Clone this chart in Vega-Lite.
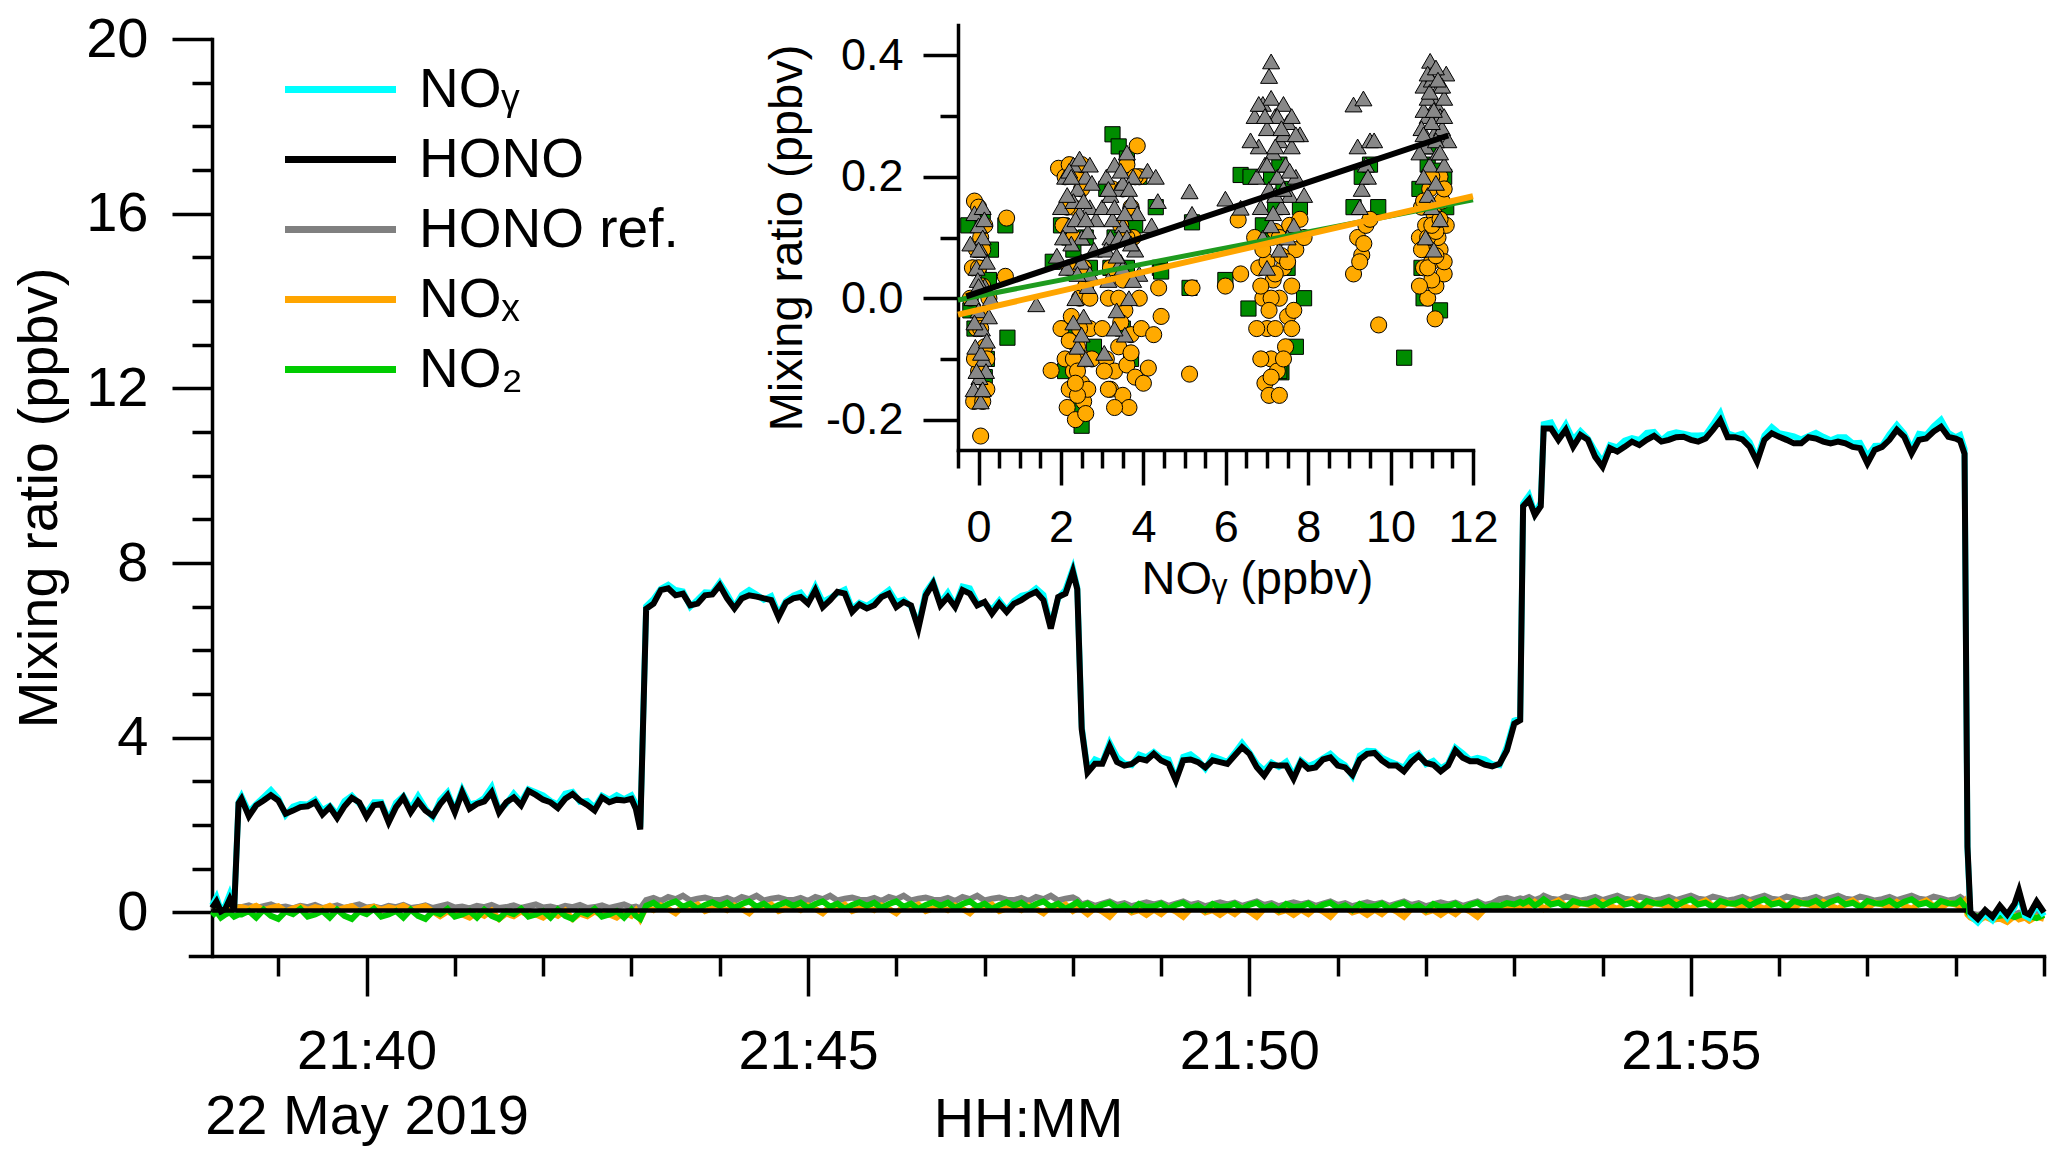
{
  "$schema": "https://vega.github.io/schema/vega-lite/v6.json",
  "width": 1854,
  "height": 917,
  "autosize": "none",
  "padding": {"left": 190, "top": 39, "right": 23, "bottom": 210},
  "config": {
    "font": "Liberation Sans",
    "view": {"stroke": null},
    "axis": {
      "domainColor": "#000", "domainWidth": 3.5, "tickColor": "#000", "tickWidth": 3.5,
      "labelColor": "#000", "titleColor": "#000", "labelFont": "Liberation Sans", "titleFont": "Liberation Sans",
      "titleFontWeight": "normal", "grid": false, "labelOverlap": false, "labelFlush": false, "domainCap": "square", "labelLimit": 0
    },
    "legend": {"labelFont": "Liberation Sans", "labelColor": "#000"}
  },
  "layer": [
    {
      "encoding": {
        "x": {
          "field": "t", "type": "temporal",
          "scale": {"domain": [
            {"year": 1900, "month": 1, "date": 1, "hours": 21, "minutes": 38},
            {"year": 1900, "month": 1, "date": 1, "hours": 21, "minutes": 59}
          ]},
          "axis": {
            "title": "HH:MM", "titleFontSize": 56, "titleX": 838, "titleY": 180, "titleAlign": "center", "titleBaseline": "alphabetic",
            "labelFontSize": 56, "labelPadding": 28, "labelLineHeight": 65,
            "values": [
              {"year": 1900, "month": 1, "date": 1, "hours": 21, "minutes": 39},
              {"year": 1900, "month": 1, "date": 1, "hours": 21, "minutes": 40},
              {"year": 1900, "month": 1, "date": 1, "hours": 21, "minutes": 41},
              {"year": 1900, "month": 1, "date": 1, "hours": 21, "minutes": 42},
              {"year": 1900, "month": 1, "date": 1, "hours": 21, "minutes": 43},
              {"year": 1900, "month": 1, "date": 1, "hours": 21, "minutes": 44},
              {"year": 1900, "month": 1, "date": 1, "hours": 21, "minutes": 45},
              {"year": 1900, "month": 1, "date": 1, "hours": 21, "minutes": 46},
              {"year": 1900, "month": 1, "date": 1, "hours": 21, "minutes": 47},
              {"year": 1900, "month": 1, "date": 1, "hours": 21, "minutes": 48},
              {"year": 1900, "month": 1, "date": 1, "hours": 21, "minutes": 49},
              {"year": 1900, "month": 1, "date": 1, "hours": 21, "minutes": 50},
              {"year": 1900, "month": 1, "date": 1, "hours": 21, "minutes": 51},
              {"year": 1900, "month": 1, "date": 1, "hours": 21, "minutes": 52},
              {"year": 1900, "month": 1, "date": 1, "hours": 21, "minutes": 53},
              {"year": 1900, "month": 1, "date": 1, "hours": 21, "minutes": 54},
              {"year": 1900, "month": 1, "date": 1, "hours": 21, "minutes": 55},
              {"year": 1900, "month": 1, "date": 1, "hours": 21, "minutes": 56},
              {"year": 1900, "month": 1, "date": 1, "hours": 21, "minutes": 57},
              {"year": 1900, "month": 1, "date": 1, "hours": 21, "minutes": 58},
              {"year": 1900, "month": 1, "date": 1, "hours": 21, "minutes": 59}
            ],
            "tickSize": {"condition": {"test": "minutes(datum.value) % 5 == 0", "value": 40}, "value": 20},
            "labelExpr": "minutes(datum.value) == 40 ? ['21:40', '22 May 2019'] : (minutes(datum.value) % 5 == 0 ? timeFormat(datum.value, '%H:%M') : '')"
          }
        },
        "y": {
          "field": "v", "type": "quantitative",
          "scale": {"domain": [-1, 20], "nice": false, "zero": false},
          "axis": {
            "title": "Mixing ratio (ppbv)", "titleFontSize": 56, "titlePadding": 17,
            "labelFontSize": 56, "labelPadding": 24, "offset": -22,
            "values": [0, 1, 2, 3, 4, 5, 6, 7, 8, 9, 10, 11, 12, 13, 14, 15, 16, 17, 18, 19, 20],
            "tickSize": {"condition": {"test": "datum.value % 4 == 0", "value": 40}, "value": 20},
            "labelExpr": "datum.value % 4 == 0 ? datum.label : ''"
          }
        }
      },
      "layer": [
        {
          "data": {
            "format": {"parse": {"t": "date:'%H:%M:%S'"}},
            "values": [
              {"t": "21:38:15", "h": 0.10, "a": 0.16, "r": 0.05, "n": 0.10, "g": -0.08},
              {"t": "21:38:18", "h": 0.25, "a": 0.35, "r": 0.10, "n": 0.15, "g": 0.02},
              {"t": "21:38:21", "h": 0.02, "a": 0.05, "r": 0.08, "n": 0.05, "g": -0.12},
              {"t": "21:38:24", "h": 0.08, "a": 0.16, "r": 0.12, "n": 0.12, "g": -0.05},
              {"t": "21:38:27", "h": 0.30, "a": 0.42, "r": 0.06, "n": 0.08, "g": 0.00},
              {"t": "21:38:30", "h": 0.05, "a": 0.10, "r": 0.10, "n": 0.14, "g": -0.10},
              {"t": "21:38:33", "h": 2.50, "a": 2.52, "r": 0.12, "n": 0.10, "g": -0.05},
              {"t": "21:38:35", "h": 2.60, "a": 2.66, "r": 0.12, "n": 0.12, "g": -0.05},
              {"t": "21:38:40", "h": 2.20, "a": 2.30, "r": 0.16, "n": 0.08, "g": 0.03},
              {"t": "21:38:45", "h": 2.45, "a": 2.48, "r": 0.10, "n": 0.15, "g": -0.12},
              {"t": "21:38:50", "h": 2.56, "a": 2.64, "r": 0.14, "n": 0.05, "g": 0.06},
              {"t": "21:38:55", "h": 2.68, "a": 2.80, "r": 0.18, "n": 0.10, "g": -0.08},
              {"t": "21:39:00", "h": 2.56, "a": 2.61, "r": 0.11, "n": 0.14, "g": -0.15},
              {"t": "21:39:05", "h": 2.26, "a": 2.23, "r": 0.13, "n": 0.02, "g": 0.02},
              {"t": "21:39:10", "h": 2.33, "a": 2.42, "r": 0.09, "n": 0.09, "g": -0.04},
              {"t": "21:39:15", "h": 2.41, "a": 2.48, "r": 0.15, "n": 0.13, "g": 0.08},
              {"t": "21:39:20", "h": 2.43, "a": 2.47, "r": 0.12, "n": 0.06, "g": -0.10},
              {"t": "21:39:25", "h": 2.52, "a": 2.58, "r": 0.17, "n": 0.12, "g": -0.05},
              {"t": "21:39:30", "h": 2.24, "a": 2.34, "r": 0.10, "n": 0.08, "g": 0.03},
              {"t": "21:39:35", "h": 2.41, "a": 2.44, "r": 0.12, "n": 0.15, "g": -0.12},
              {"t": "21:39:40", "h": 2.16, "a": 2.24, "r": 0.16, "n": 0.05, "g": 0.06},
              {"t": "21:39:45", "h": 2.43, "a": 2.55, "r": 0.10, "n": 0.10, "g": -0.08},
              {"t": "21:39:50", "h": 2.62, "a": 2.67, "r": 0.14, "n": 0.14, "g": -0.15},
              {"t": "21:39:55", "h": 2.52, "a": 2.49, "r": 0.18, "n": 0.02, "g": 0.02},
              {"t": "21:40:00", "h": 2.19, "a": 2.28, "r": 0.11, "n": 0.09, "g": -0.04},
              {"t": "21:40:05", "h": 2.45, "a": 2.52, "r": 0.13, "n": 0.13, "g": 0.08},
              {"t": "21:40:10", "h": 2.48, "a": 2.52, "r": 0.09, "n": 0.06, "g": -0.10},
              {"t": "21:40:15", "h": 2.06, "a": 2.12, "r": 0.15, "n": 0.12, "g": -0.05},
              {"t": "21:40:20", "h": 2.41, "a": 2.51, "r": 0.12, "n": 0.08, "g": 0.03},
              {"t": "21:40:25", "h": 2.63, "a": 2.66, "r": 0.17, "n": 0.15, "g": -0.12},
              {"t": "21:40:30", "h": 2.29, "a": 2.37, "r": 0.10, "n": 0.05, "g": 0.06},
              {"t": "21:40:35", "h": 2.54, "a": 2.66, "r": 0.12, "n": 0.10, "g": -0.08},
              {"t": "21:40:40", "h": 2.33, "a": 2.38, "r": 0.16, "n": 0.14, "g": -0.15},
              {"t": "21:40:45", "h": 2.21, "a": 2.18, "r": 0.10, "n": 0.02, "g": 0.02},
              {"t": "21:40:50", "h": 2.48, "a": 2.57, "r": 0.14, "n": -0.09, "g": -0.04},
              {"t": "21:40:55", "h": 2.68, "a": 2.75, "r": 0.18, "n": 0.02, "g": 0.08},
              {"t": "21:41:00", "h": 2.29, "a": 2.33, "r": 0.11, "n": -0.06, "g": -0.10},
              {"t": "21:41:05", "h": 2.75, "a": 2.81, "r": 0.13, "n": -0.05, "g": -0.05},
              {"t": "21:41:10", "h": 2.37, "a": 2.47, "r": 0.09, "n": -0.12, "g": 0.03},
              {"t": "21:41:15", "h": 2.48, "a": 2.51, "r": 0.15, "n": 0.00, "g": -0.12},
              {"t": "21:41:20", "h": 2.54, "a": 2.62, "r": 0.12, "n": -0.08, "g": 0.06},
              {"t": "21:41:25", "h": 2.75, "a": 2.87, "r": 0.17, "n": 0.04, "g": -0.08},
              {"t": "21:41:30", "h": 2.29, "a": 2.34, "r": 0.10, "n": -0.15, "g": -0.15},
              {"t": "21:41:35", "h": 2.52, "a": 2.49, "r": 0.12, "n": -0.03, "g": 0.02},
              {"t": "21:41:40", "h": 2.63, "a": 2.72, "r": 0.16, "n": -0.09, "g": -0.04},
              {"t": "21:41:45", "h": 2.45, "a": 2.52, "r": 0.10, "n": 0.02, "g": 0.08},
              {"t": "21:41:50", "h": 2.78, "a": 2.82, "r": 0.14, "n": -0.06, "g": -0.10},
              {"t": "21:41:55", "h": 2.69, "a": 2.75, "r": 0.18, "n": -0.05, "g": -0.05},
              {"t": "21:42:00", "h": 2.58, "a": 2.68, "r": 0.11, "n": -0.12, "g": 0.03},
              {"t": "21:42:05", "h": 2.52, "a": 2.55, "r": 0.13, "n": 0.00, "g": -0.12},
              {"t": "21:42:10", "h": 2.39, "a": 2.47, "r": 0.09, "n": -0.08, "g": 0.06},
              {"t": "21:42:15", "h": 2.60, "a": 2.72, "r": 0.15, "n": 0.04, "g": -0.08},
              {"t": "21:42:20", "h": 2.71, "a": 2.76, "r": 0.12, "n": -0.15, "g": -0.15},
              {"t": "21:42:25", "h": 2.56, "a": 2.53, "r": 0.17, "n": -0.03, "g": 0.02},
              {"t": "21:42:30", "h": 2.46, "a": 2.55, "r": 0.10, "n": -0.09, "g": -0.04},
              {"t": "21:42:35", "h": 2.33, "a": 2.40, "r": 0.12, "n": 0.02, "g": 0.08},
              {"t": "21:42:40", "h": 2.63, "a": 2.67, "r": 0.16, "n": -0.06, "g": -0.10},
              {"t": "21:42:45", "h": 2.52, "a": 2.58, "r": 0.10, "n": -0.05, "g": -0.05},
              {"t": "21:42:50", "h": 2.58, "a": 2.68, "r": 0.14, "n": -0.12, "g": 0.03},
              {"t": "21:42:55", "h": 2.56, "a": 2.59, "r": 0.18, "n": 0.00, "g": -0.12},
              {"t": "21:43:00", "h": 2.60, "a": 2.68, "r": 0.11, "n": -0.08, "g": 0.06},
              {"t": "21:43:03", "h": 2.37, "a": 2.49, "r": 0.13, "n": 0.04, "g": -0.08},
              {"t": "21:43:06", "h": 1.90, "a": 1.95, "r": 0.09, "n": -0.15, "g": -0.15},
              {"t": "21:43:10", "h": 6.95, "a": 7.01, "r": 0.28, "n": 0.12, "g": 0.15},
              {"t": "21:43:15", "h": 7.07, "a": 7.17, "r": 0.33, "n": 0.05, "g": 0.22},
              {"t": "21:43:20", "h": 7.38, "a": 7.41, "r": 0.26, "n": 0.16, "g": 0.10},
              {"t": "21:43:25", "h": 7.42, "a": 7.50, "r": 0.35, "n": 0.08, "g": 0.19},
              {"t": "21:43:30", "h": 7.26, "a": 7.38, "r": 0.30, "n": -0.02, "g": 0.25},
              {"t": "21:43:35", "h": 7.30, "a": 7.35, "r": 0.38, "n": 0.14, "g": 0.13},
              {"t": "21:43:40", "h": 7.03, "a": 7.00, "r": 0.27, "n": 0.10, "g": 0.20},
              {"t": "21:43:45", "h": 7.07, "a": 7.16, "r": 0.31, "n": 0.18, "g": 0.08},
              {"t": "21:43:50", "h": 7.26, "a": 7.33, "r": 0.34, "n": 0.03, "g": 0.17},
              {"t": "21:43:55", "h": 7.28, "a": 7.32, "r": 0.29, "n": 0.09, "g": 0.23},
              {"t": "21:44:00", "h": 7.49, "a": 7.55, "r": 0.28, "n": 0.12, "g": 0.15},
              {"t": "21:44:05", "h": 7.19, "a": 7.29, "r": 0.33, "n": 0.05, "g": 0.22},
              {"t": "21:44:10", "h": 6.96, "a": 6.99, "r": 0.26, "n": 0.16, "g": 0.10},
              {"t": "21:44:15", "h": 7.19, "a": 7.27, "r": 0.35, "n": 0.08, "g": 0.19},
              {"t": "21:44:20", "h": 7.26, "a": 7.38, "r": 0.30, "n": -0.02, "g": 0.25},
              {"t": "21:44:25", "h": 7.23, "a": 7.28, "r": 0.38, "n": 0.14, "g": 0.13},
              {"t": "21:44:30", "h": 7.19, "a": 7.16, "r": 0.27, "n": 0.10, "g": 0.20},
              {"t": "21:44:35", "h": 7.15, "a": 7.24, "r": 0.31, "n": 0.18, "g": 0.08},
              {"t": "21:44:40", "h": 6.76, "a": 6.83, "r": 0.34, "n": 0.03, "g": 0.17},
              {"t": "21:44:45", "h": 7.09, "a": 7.13, "r": 0.29, "n": 0.09, "g": 0.23},
              {"t": "21:44:50", "h": 7.19, "a": 7.25, "r": 0.28, "n": 0.12, "g": 0.15},
              {"t": "21:44:55", "h": 7.22, "a": 7.32, "r": 0.33, "n": 0.05, "g": 0.22},
              {"t": "21:45:00", "h": 7.07, "a": 7.10, "r": 0.26, "n": 0.16, "g": 0.10},
              {"t": "21:45:05", "h": 7.38, "a": 7.46, "r": 0.35, "n": 0.08, "g": 0.19},
              {"t": "21:45:10", "h": 6.99, "a": 7.11, "r": 0.30, "n": -0.02, "g": 0.25},
              {"t": "21:45:15", "h": 7.15, "a": 7.20, "r": 0.38, "n": 0.14, "g": 0.13},
              {"t": "21:45:20", "h": 7.34, "a": 7.31, "r": 0.27, "n": 0.10, "g": 0.20},
              {"t": "21:45:25", "h": 7.30, "a": 7.39, "r": 0.31, "n": 0.18, "g": 0.08},
              {"t": "21:45:30", "h": 6.88, "a": 6.95, "r": 0.34, "n": 0.03, "g": 0.17},
              {"t": "21:45:35", "h": 7.05, "a": 7.09, "r": 0.29, "n": 0.09, "g": 0.23},
              {"t": "21:45:40", "h": 6.96, "a": 7.02, "r": 0.28, "n": 0.12, "g": 0.15},
              {"t": "21:45:45", "h": 7.03, "a": 7.13, "r": 0.33, "n": 0.05, "g": 0.22},
              {"t": "21:45:50", "h": 7.22, "a": 7.25, "r": 0.26, "n": 0.16, "g": 0.10},
              {"t": "21:45:55", "h": 7.30, "a": 7.38, "r": 0.35, "n": 0.08, "g": 0.19},
              {"t": "21:46:00", "h": 6.99, "a": 7.11, "r": 0.30, "n": -0.02, "g": 0.25},
              {"t": "21:46:05", "h": 7.11, "a": 7.16, "r": 0.38, "n": 0.14, "g": 0.13},
              {"t": "21:46:10", "h": 7.03, "a": 7.00, "r": 0.27, "n": 0.10, "g": 0.20},
              {"t": "21:46:15", "h": 6.50, "a": 6.59, "r": 0.31, "n": 0.18, "g": 0.08},
              {"t": "21:46:20", "h": 7.26, "a": 7.33, "r": 0.34, "n": 0.03, "g": 0.17},
              {"t": "21:46:25", "h": 7.53, "a": 7.57, "r": 0.29, "n": 0.09, "g": 0.23},
              {"t": "21:46:30", "h": 7.03, "a": 7.09, "r": 0.28, "n": 0.12, "g": 0.15},
              {"t": "21:46:35", "h": 7.22, "a": 7.32, "r": 0.33, "n": 0.05, "g": 0.22},
              {"t": "21:46:40", "h": 6.99, "a": 7.02, "r": 0.26, "n": 0.16, "g": 0.10},
              {"t": "21:46:45", "h": 7.38, "a": 7.46, "r": 0.35, "n": 0.08, "g": 0.19},
              {"t": "21:46:50", "h": 7.30, "a": 7.42, "r": 0.30, "n": -0.02, "g": 0.25},
              {"t": "21:46:55", "h": 7.03, "a": 7.08, "r": 0.38, "n": 0.14, "g": 0.13},
              {"t": "21:47:00", "h": 7.11, "a": 7.08, "r": 0.27, "n": 0.10, "g": 0.20},
              {"t": "21:47:05", "h": 6.84, "a": 6.93, "r": 0.31, "n": 0.18, "g": 0.08},
              {"t": "21:47:10", "h": 7.07, "a": 7.14, "r": 0.34, "n": 0.03, "g": 0.17},
              {"t": "21:47:15", "h": 6.88, "a": 6.92, "r": 0.29, "n": 0.09, "g": 0.23},
              {"t": "21:47:20", "h": 7.07, "a": 7.13, "r": 0.28, "n": 0.12, "g": 0.15},
              {"t": "21:47:25", "h": 7.15, "a": 7.25, "r": 0.33, "n": 0.05, "g": 0.22},
              {"t": "21:47:30", "h": 7.26, "a": 7.29, "r": 0.26, "n": 0.16, "g": 0.10},
              {"t": "21:47:35", "h": 7.34, "a": 7.42, "r": 0.35, "n": 0.08, "g": 0.19},
              {"t": "21:47:40", "h": 7.15, "a": 7.27, "r": 0.30, "n": -0.02, "g": 0.25},
              {"t": "21:47:45", "h": 6.50, "a": 6.55, "r": 0.38, "n": 0.14, "g": 0.13},
              {"t": "21:47:50", "h": 7.22, "a": 7.19, "r": 0.27, "n": 0.10, "g": 0.20},
              {"t": "21:47:55", "h": 7.30, "a": 7.39, "r": 0.31, "n": 0.18, "g": 0.08},
              {"t": "21:48:00", "h": 7.80, "a": 7.87, "r": 0.34, "n": 0.03, "g": 0.17},
              {"t": "21:48:03", "h": 7.40, "a": 7.44, "r": 0.29, "n": 0.09, "g": 0.23},
              {"t": "21:48:06", "h": 4.20, "a": 4.26, "r": 0.18, "n": 0.06, "g": 0.14},
              {"t": "21:48:10", "h": 3.20, "a": 3.26, "r": 0.22, "n": -0.04, "g": 0.20},
              {"t": "21:48:15", "h": 3.40, "a": 3.50, "r": 0.15, "n": 0.10, "g": 0.08},
              {"t": "21:48:20", "h": 3.40, "a": 3.43, "r": 0.20, "n": 0.02, "g": 0.17},
              {"t": "21:48:25", "h": 3.80, "a": 3.88, "r": 0.25, "n": -0.10, "g": 0.22},
              {"t": "21:48:30", "h": 3.44, "a": 3.56, "r": 0.17, "n": 0.08, "g": 0.10},
              {"t": "21:48:35", "h": 3.36, "a": 3.41, "r": 0.21, "n": 0.12, "g": 0.16},
              {"t": "21:48:40", "h": 3.40, "a": 3.37, "r": 0.14, "n": 0.00, "g": 0.05},
              {"t": "21:48:45", "h": 3.52, "a": 3.61, "r": 0.19, "n": 0.05, "g": 0.19},
              {"t": "21:48:50", "h": 3.48, "a": 3.55, "r": 0.23, "n": -0.06, "g": 0.12},
              {"t": "21:48:55", "h": 3.63, "a": 3.67, "r": 0.18, "n": 0.06, "g": 0.14},
              {"t": "21:49:00", "h": 3.48, "a": 3.54, "r": 0.22, "n": -0.04, "g": 0.20},
              {"t": "21:49:05", "h": 3.40, "a": 3.50, "r": 0.15, "n": 0.10, "g": 0.08},
              {"t": "21:49:10", "h": 3.02, "a": 3.05, "r": 0.20, "n": 0.02, "g": 0.17},
              {"t": "21:49:15", "h": 3.48, "a": 3.56, "r": 0.25, "n": -0.10, "g": 0.22},
              {"t": "21:49:20", "h": 3.50, "a": 3.62, "r": 0.17, "n": 0.08, "g": 0.10},
              {"t": "21:49:25", "h": 3.44, "a": 3.49, "r": 0.21, "n": 0.12, "g": 0.16},
              {"t": "21:49:30", "h": 3.32, "a": 3.29, "r": 0.14, "n": 0.00, "g": 0.05},
              {"t": "21:49:35", "h": 3.48, "a": 3.57, "r": 0.19, "n": 0.05, "g": 0.19},
              {"t": "21:49:40", "h": 3.44, "a": 3.51, "r": 0.23, "n": -0.06, "g": 0.12},
              {"t": "21:49:45", "h": 3.40, "a": 3.44, "r": 0.18, "n": 0.06, "g": 0.14},
              {"t": "21:49:50", "h": 3.59, "a": 3.65, "r": 0.22, "n": -0.04, "g": 0.20},
              {"t": "21:49:55", "h": 3.78, "a": 3.88, "r": 0.15, "n": 0.10, "g": 0.08},
              {"t": "21:50:00", "h": 3.63, "a": 3.66, "r": 0.20, "n": 0.02, "g": 0.17},
              {"t": "21:50:05", "h": 3.32, "a": 3.40, "r": 0.25, "n": -0.10, "g": 0.22},
              {"t": "21:50:10", "h": 3.13, "a": 3.25, "r": 0.17, "n": 0.08, "g": 0.10},
              {"t": "21:50:15", "h": 3.38, "a": 3.43, "r": 0.21, "n": 0.12, "g": 0.16},
              {"t": "21:50:20", "h": 3.36, "a": 3.33, "r": 0.14, "n": 0.00, "g": 0.05},
              {"t": "21:50:25", "h": 3.36, "a": 3.45, "r": 0.19, "n": 0.05, "g": 0.19},
              {"t": "21:50:30", "h": 3.06, "a": 3.13, "r": 0.23, "n": -0.06, "g": 0.12},
              {"t": "21:50:35", "h": 3.44, "a": 3.48, "r": 0.18, "n": 0.06, "g": 0.14},
              {"t": "21:50:40", "h": 3.29, "a": 3.35, "r": 0.22, "n": -0.04, "g": 0.20},
              {"t": "21:50:45", "h": 3.32, "a": 3.42, "r": 0.15, "n": 0.10, "g": 0.08},
              {"t": "21:50:50", "h": 3.50, "a": 3.53, "r": 0.20, "n": 0.02, "g": 0.17},
              {"t": "21:50:55", "h": 3.55, "a": 3.63, "r": 0.25, "n": -0.10, "g": 0.22},
              {"t": "21:51:00", "h": 3.36, "a": 3.48, "r": 0.17, "n": 0.08, "g": 0.10},
              {"t": "21:51:05", "h": 3.32, "a": 3.37, "r": 0.21, "n": 0.12, "g": 0.16},
              {"t": "21:51:10", "h": 3.15, "a": 3.12, "r": 0.14, "n": 0.00, "g": 0.05},
              {"t": "21:51:15", "h": 3.50, "a": 3.59, "r": 0.19, "n": 0.05, "g": 0.19},
              {"t": "21:51:20", "h": 3.63, "a": 3.70, "r": 0.23, "n": -0.06, "g": 0.12},
              {"t": "21:51:25", "h": 3.65, "a": 3.69, "r": 0.18, "n": 0.06, "g": 0.14},
              {"t": "21:51:30", "h": 3.48, "a": 3.54, "r": 0.22, "n": -0.04, "g": 0.20},
              {"t": "21:51:35", "h": 3.36, "a": 3.46, "r": 0.15, "n": 0.10, "g": 0.08},
              {"t": "21:51:40", "h": 3.36, "a": 3.39, "r": 0.20, "n": 0.02, "g": 0.17},
              {"t": "21:51:45", "h": 3.23, "a": 3.31, "r": 0.25, "n": -0.10, "g": 0.22},
              {"t": "21:51:50", "h": 3.44, "a": 3.56, "r": 0.17, "n": 0.08, "g": 0.10},
              {"t": "21:51:55", "h": 3.59, "a": 3.64, "r": 0.21, "n": 0.12, "g": 0.16},
              {"t": "21:52:00", "h": 3.42, "a": 3.39, "r": 0.14, "n": 0.00, "g": 0.05},
              {"t": "21:52:05", "h": 3.38, "a": 3.47, "r": 0.19, "n": 0.05, "g": 0.19},
              {"t": "21:52:10", "h": 3.23, "a": 3.30, "r": 0.23, "n": -0.06, "g": 0.12},
              {"t": "21:52:15", "h": 3.36, "a": 3.40, "r": 0.18, "n": 0.06, "g": 0.14},
              {"t": "21:52:20", "h": 3.71, "a": 3.77, "r": 0.22, "n": -0.04, "g": 0.20},
              {"t": "21:52:25", "h": 3.54, "a": 3.64, "r": 0.15, "n": 0.10, "g": 0.08},
              {"t": "21:52:30", "h": 3.46, "a": 3.49, "r": 0.20, "n": 0.02, "g": 0.17},
              {"t": "21:52:35", "h": 3.46, "a": 3.54, "r": 0.25, "n": -0.10, "g": 0.22},
              {"t": "21:52:40", "h": 3.38, "a": 3.50, "r": 0.17, "n": 0.08, "g": 0.10},
              {"t": "21:52:45", "h": 3.34, "a": 3.39, "r": 0.21, "n": 0.12, "g": 0.16},
              {"t": "21:52:50", "h": 3.40, "a": 3.37, "r": 0.30, "n": 0.10, "g": 0.15},
              {"t": "21:52:55", "h": 3.71, "a": 3.80, "r": 0.33, "n": 0.15, "g": 0.21},
              {"t": "21:53:00", "h": 4.32, "a": 4.39, "r": 0.28, "n": 0.08, "g": 0.18},
              {"t": "21:53:04", "h": 4.40, "a": 4.44, "r": 0.32, "n": 0.12, "g": 0.24},
              {"t": "21:53:06", "h": 9.30, "a": 9.36, "r": 0.30, "n": 0.18, "g": 0.20},
              {"t": "21:53:10", "h": 9.45, "a": 9.55, "r": 0.35, "n": 0.12, "g": 0.27},
              {"t": "21:53:14", "h": 9.10, "a": 9.13, "r": 0.28, "n": 0.24, "g": 0.15},
              {"t": "21:53:18", "h": 9.30, "a": 9.38, "r": 0.33, "n": 0.15, "g": 0.24},
              {"t": "21:53:20", "h": 11.08, "a": 11.18, "r": 0.38, "n": 0.08, "g": 0.30},
              {"t": "21:53:25", "h": 11.08, "a": 11.22, "r": 0.31, "n": 0.20, "g": 0.18},
              {"t": "21:53:30", "h": 10.82, "a": 10.90, "r": 0.29, "n": 0.27, "g": 0.22},
              {"t": "21:53:35", "h": 11.05, "a": 11.17, "r": 0.36, "n": 0.14, "g": 0.12},
              {"t": "21:53:40", "h": 10.66, "a": 10.82, "r": 0.32, "n": 0.10, "g": 0.26},
              {"t": "21:53:45", "h": 10.93, "a": 11.02, "r": 0.27, "n": 0.22, "g": 0.21},
              {"t": "21:53:50", "h": 10.82, "a": 10.85, "r": 0.30, "n": 0.18, "g": 0.20},
              {"t": "21:53:55", "h": 10.43, "a": 10.56, "r": 0.35, "n": 0.12, "g": 0.27},
              {"t": "21:54:00", "h": 10.20, "a": 10.31, "r": 0.28, "n": 0.24, "g": 0.15},
              {"t": "21:54:05", "h": 10.63, "a": 10.70, "r": 0.33, "n": 0.15, "g": 0.24},
              {"t": "21:54:10", "h": 10.55, "a": 10.65, "r": 0.38, "n": 0.08, "g": 0.30},
              {"t": "21:54:15", "h": 10.66, "a": 10.80, "r": 0.31, "n": 0.20, "g": 0.18},
              {"t": "21:54:20", "h": 10.78, "a": 10.86, "r": 0.29, "n": 0.27, "g": 0.22},
              {"t": "21:54:25", "h": 10.70, "a": 10.82, "r": 0.36, "n": 0.14, "g": 0.12},
              {"t": "21:54:30", "h": 10.82, "a": 10.98, "r": 0.32, "n": 0.10, "g": 0.26},
              {"t": "21:54:35", "h": 10.91, "a": 11.00, "r": 0.27, "n": 0.22, "g": 0.21},
              {"t": "21:54:40", "h": 10.78, "a": 10.81, "r": 0.30, "n": 0.18, "g": 0.20},
              {"t": "21:54:45", "h": 10.82, "a": 10.95, "r": 0.35, "n": 0.12, "g": 0.27},
              {"t": "21:54:50", "h": 10.88, "a": 10.99, "r": 0.28, "n": 0.24, "g": 0.15},
              {"t": "21:54:55", "h": 10.89, "a": 10.96, "r": 0.33, "n": 0.15, "g": 0.24},
              {"t": "21:55:00", "h": 10.82, "a": 10.92, "r": 0.38, "n": 0.08, "g": 0.30},
              {"t": "21:55:05", "h": 10.78, "a": 10.92, "r": 0.31, "n": 0.20, "g": 0.18},
              {"t": "21:55:10", "h": 10.85, "a": 10.93, "r": 0.29, "n": 0.27, "g": 0.22},
              {"t": "21:55:15", "h": 11.05, "a": 11.17, "r": 0.36, "n": 0.14, "g": 0.12},
              {"t": "21:55:20", "h": 11.27, "a": 11.43, "r": 0.32, "n": 0.10, "g": 0.26},
              {"t": "21:55:25", "h": 10.88, "a": 10.97, "r": 0.27, "n": 0.22, "g": 0.21},
              {"t": "21:55:30", "h": 10.88, "a": 10.91, "r": 0.30, "n": 0.18, "g": 0.20},
              {"t": "21:55:35", "h": 10.83, "a": 10.96, "r": 0.35, "n": 0.12, "g": 0.27},
              {"t": "21:55:40", "h": 10.66, "a": 10.77, "r": 0.28, "n": 0.24, "g": 0.15},
              {"t": "21:55:45", "h": 10.32, "a": 10.39, "r": 0.33, "n": 0.15, "g": 0.24},
              {"t": "21:55:50", "h": 10.82, "a": 10.92, "r": 0.38, "n": 0.08, "g": 0.30},
              {"t": "21:55:55", "h": 10.97, "a": 11.11, "r": 0.31, "n": 0.20, "g": 0.18},
              {"t": "21:56:00", "h": 10.89, "a": 10.97, "r": 0.29, "n": 0.27, "g": 0.22},
              {"t": "21:56:05", "h": 10.82, "a": 10.94, "r": 0.36, "n": 0.14, "g": 0.12},
              {"t": "21:56:10", "h": 10.74, "a": 10.90, "r": 0.32, "n": 0.10, "g": 0.26},
              {"t": "21:56:15", "h": 10.74, "a": 10.83, "r": 0.27, "n": 0.22, "g": 0.21},
              {"t": "21:56:20", "h": 10.88, "a": 10.91, "r": 0.30, "n": 0.18, "g": 0.20},
              {"t": "21:56:25", "h": 10.85, "a": 10.98, "r": 0.35, "n": 0.12, "g": 0.27},
              {"t": "21:56:30", "h": 10.78, "a": 10.89, "r": 0.28, "n": 0.24, "g": 0.15},
              {"t": "21:56:35", "h": 10.74, "a": 10.81, "r": 0.33, "n": 0.15, "g": 0.24},
              {"t": "21:56:40", "h": 10.78, "a": 10.88, "r": 0.38, "n": 0.08, "g": 0.30},
              {"t": "21:56:45", "h": 10.74, "a": 10.88, "r": 0.31, "n": 0.20, "g": 0.18},
              {"t": "21:56:50", "h": 10.66, "a": 10.74, "r": 0.29, "n": 0.27, "g": 0.22},
              {"t": "21:56:55", "h": 10.63, "a": 10.75, "r": 0.36, "n": 0.14, "g": 0.12},
              {"t": "21:57:00", "h": 10.28, "a": 10.44, "r": 0.32, "n": 0.10, "g": 0.26},
              {"t": "21:57:05", "h": 10.59, "a": 10.68, "r": 0.27, "n": 0.22, "g": 0.21},
              {"t": "21:57:10", "h": 10.66, "a": 10.69, "r": 0.30, "n": 0.18, "g": 0.20},
              {"t": "21:57:15", "h": 10.82, "a": 10.95, "r": 0.35, "n": 0.12, "g": 0.27},
              {"t": "21:57:20", "h": 11.05, "a": 11.16, "r": 0.28, "n": 0.24, "g": 0.15},
              {"t": "21:57:25", "h": 10.89, "a": 10.96, "r": 0.33, "n": 0.15, "g": 0.24},
              {"t": "21:57:30", "h": 10.51, "a": 10.61, "r": 0.38, "n": 0.08, "g": 0.30},
              {"t": "21:57:35", "h": 10.82, "a": 10.96, "r": 0.31, "n": 0.20, "g": 0.18},
              {"t": "21:57:40", "h": 10.85, "a": 10.93, "r": 0.29, "n": 0.27, "g": 0.22},
              {"t": "21:57:45", "h": 11.01, "a": 11.13, "r": 0.36, "n": 0.14, "g": 0.12},
              {"t": "21:57:50", "h": 11.12, "a": 11.28, "r": 0.32, "n": 0.10, "g": 0.26},
              {"t": "21:57:55", "h": 10.89, "a": 10.98, "r": 0.27, "n": 0.22, "g": 0.21},
              {"t": "21:58:00", "h": 10.85, "a": 10.88, "r": 0.30, "n": 0.18, "g": 0.20},
              {"t": "21:58:03", "h": 10.80, "a": 10.93, "r": 0.35, "n": 0.12, "g": 0.27},
              {"t": "21:58:06", "h": 10.50, "a": 10.61, "r": 0.28, "n": 0.24, "g": 0.15},
              {"t": "21:58:08", "h": 1.50, "a": 1.45, "r": 0.05, "n": -0.05, "g": 0.02},
              {"t": "21:58:10", "h": 0.00, "a": -0.08, "r": -0.02, "n": -0.12, "g": -0.06},
              {"t": "21:58:15", "h": -0.15, "a": -0.23, "r": -0.06, "n": -0.20, "g": -0.10},
              {"t": "21:58:20", "h": 0.05, "a": -0.03, "r": 0.00, "n": -0.10, "g": -0.03},
              {"t": "21:58:25", "h": -0.10, "a": -0.18, "r": -0.04, "n": -0.18, "g": -0.12},
              {"t": "21:58:30", "h": 0.15, "a": 0.07, "r": -0.08, "n": -0.14, "g": -0.08},
              {"t": "21:58:35", "h": -0.05, "a": -0.13, "r": -0.03, "n": -0.22, "g": -0.05},
              {"t": "21:58:40", "h": 0.20, "a": 0.12, "r": -0.05, "n": -0.08, "g": -0.11},
              {"t": "21:58:43", "h": 0.50, "a": 0.42, "r": -0.01, "n": -0.16, "g": -0.07},
              {"t": "21:58:47", "h": 0.00, "a": -0.08, "r": -0.06, "n": -0.12, "g": -0.04},
              {"t": "21:58:50", "h": -0.05, "a": -0.13, "r": -0.04, "n": -0.19, "g": -0.09},
              {"t": "21:58:55", "h": 0.25, "a": 0.17, "r": -0.02, "n": -0.10, "g": -0.13},
              {"t": "21:59:00", "h": 0.00, "a": -0.08, "r": -0.05, "n": -0.15, "g": -0.06}
            ]
          },
          "transform": [{"fold": ["r", "n", "g", "a", "h"], "as": ["k", "v"]}],
          "mark": {"type": "line", "strokeJoin": "miter", "strokeWidth": 6},
          "encoding": {
            "color": {
              "field": "k", "type": "nominal",
              "scale": {"domain": ["a", "h", "r", "n", "g"], "range": ["#00FFFF", "#000000", "#808080", "#FFA500", "#00CC00"]},
              "legend": {
                "orient": "none", "legendX": 119, "legendY": 19, "direction": "vertical", "title": null, "padding": 0,
                "symbolType": "M-2,0H2", "symbolSize": 3080, "symbolStrokeWidth": 7,
                "labelFontSize": 55, "labelOffset": 47, "rowPadding": 10, "labelLimit": 0,
                "labelExpr": "datum.label == 'a' ? 'NOᵧ' : datum.label == 'h' ? 'HONO' : datum.label == 'r' ? 'HONO ref.' : datum.label == 'n' ? 'NOₓ' : 'NO₂'"
              }
            }
          }
        },
        {
          "data": {
            "format": {"parse": {"t": "date:'%H:%M:%S'", "t2": "date:'%H:%M:%S'"}},
            "values": [{"t": "21:38:15", "t2": "21:58:07", "v": 0.04}]
          },
          "mark": {"type": "rule", "color": "#000", "strokeWidth": 4.5},
          "encoding": {"x2": {"field": "t2"}}
        }
      ]
    },
    {
      "encoding": {
        "x": {
          "field": "x", "type": "quantitative",
          "scale": {"domain": [-0.5, 12], "range": [768, 1283], "nice": false, "zero": false},
          "axis": {
            "orient": "bottom", "offset": -506,
            "title": "NOᵧ (ppbv)", "titleFontSize": 47, "titleX": 1067, "titleY": 143, "titleAlign": "center", "titleBaseline": "alphabetic",
            "labelFontSize": 45, "labelPadding": 20,
            "values": [-0.5, 0, 0.5, 1, 1.5, 2, 2.5, 3, 3.5, 4, 4.5, 5, 5.5, 6, 6.5, 7, 7.5, 8, 8.5, 9, 9.5, 10, 10.5, 11, 11.5, 12],
            "tickSize": {"condition": {"test": "round(datum.value * 2) % 4 == 0", "value": 35}, "value": 18},
            "labelExpr": "round(datum.value * 2) % 4 == 0 ? format(datum.value, '.0f') : ''"
          }
        },
        "y": {
          "field": "y", "type": "quantitative",
          "scale": {"domain": [-0.25, 0.45], "range": [411, -14], "nice": false, "zero": false},
          "axis": {
            "orient": "left", "offset": -768,
            "title": "Mixing ratio (ppbv)", "titleFontSize": 47, "titlePadding": 14,
            "labelFontSize": 45, "labelPadding": 20,
            "values": [-0.2, -0.1, 0, 0.1, 0.2, 0.3, 0.4],
            "tickSize": {"condition": {"test": "round(datum.value * 10) % 2 == 0", "value": 35}, "value": 18},
            "labelExpr": "round(datum.value * 10) % 2 == 0 ? (datum.value < 0 ? '-' + format(-datum.value, '.1f') : format(datum.value, '.1f')) : ''"
          }
        }
      },
      "layer": [
        {
          "data": {"values": [
            {"x": -0.25, "y": 0.12}, {"x": 0.3, "y": 0.08}, {"x": 0.1, "y": 0.13}, {"x": -0.1, "y": -0.05}, {"x": 0.2, "y": -0.1},
            {"x": 0.0, "y": 0.05}, {"x": 0.15, "y": -0.13}, {"x": 0.7, "y": -0.065}, {"x": 0.65, "y": 0.12}, {"x": -0.2, "y": -0.02},
            {"x": 0.25, "y": 0.03}, {"x": 2.0, "y": 0.12}, {"x": 2.5, "y": -0.21}, {"x": 2.4, "y": -0.18}, {"x": 2.6, "y": 0.1},
            {"x": 2.2, "y": -0.05}, {"x": 2.7, "y": 0.05}, {"x": 2.3, "y": 0.08}, {"x": 2.1, "y": -0.12}, {"x": 2.8, "y": -0.08},
            {"x": 1.8, "y": 0.06}, {"x": 3.25, "y": 0.27}, {"x": 3.4, "y": 0.25}, {"x": 3.6, "y": 0.23}, {"x": 3.9, "y": 0.2},
            {"x": 4.3, "y": 0.15}, {"x": 3.5, "y": -0.05}, {"x": 3.2, "y": 0.05}, {"x": 3.7, "y": -0.1}, {"x": 3.8, "y": 0.12},
            {"x": 4.4, "y": 0.05}, {"x": 3.1, "y": 0.18}, {"x": 4.43, "y": 0.044}, {"x": 5.12, "y": 0.017}, {"x": 5.18, "y": 0.125},
            {"x": 5.99, "y": 0.03}, {"x": 6.36, "y": 0.203}, {"x": 6.6, "y": 0.2}, {"x": 6.55, "y": -0.017}, {"x": 7.35, "y": -0.122},
            {"x": 7.0, "y": 0.1}, {"x": 7.2, "y": 0.15}, {"x": 7.5, "y": 0.05}, {"x": 7.7, "y": -0.08}, {"x": 7.8, "y": 0.15},
            {"x": 6.9, "y": 0.12}, {"x": 7.3, "y": -0.12}, {"x": 7.4, "y": 0.18}, {"x": 7.9, "y": 0.0}, {"x": 9.1, "y": 0.15},
            {"x": 9.3, "y": 0.2}, {"x": 9.5, "y": 0.22}, {"x": 9.7, "y": 0.15}, {"x": 10.33, "y": -0.098}, {"x": 10.7, "y": 0.18},
            {"x": 11.0, "y": 0.25}, {"x": 11.3, "y": 0.2}, {"x": 10.8, "y": 0.0}, {"x": 11.2, "y": -0.02}, {"x": 10.9, "y": 0.22},
            {"x": 11.1, "y": 0.1}, {"x": 10.75, "y": 0.05}, {"x": 11.35, "y": 0.15},
            {"x": 2.2, "y": 0.1}, {"x": 2.4, "y": 0.05}, {"x": 3.3, "y": 0.1}, {"x": 3.6, "y": 0.05}, {"x": 7.1, "y": 0.2},
            {"x": 7.3, "y": 0.22}, {"x": 11.1, "y": 0.21}, {"x": 10.9, "y": 0.15}
          ]},
          "mark": {"type": "point", "shape": "square", "filled": true, "fill": "#008C00", "stroke": "#000", "strokeWidth": 1, "size": 230, "opacity": 1}
        },
        {
          "data": {"values": [
            {"x": -0.1, "y": 0.16}, {"x": 0.0, "y": 0.15}, {"x": 0.05, "y": 0.1}, {"x": -0.15, "y": 0.05}, {"x": 0.1, "y": 0.02},
            {"x": -0.05, "y": -0.05}, {"x": 0.15, "y": -0.08}, {"x": 0.0, "y": -0.12}, {"x": -0.12, "y": -0.17}, {"x": 0.1, "y": -0.17},
            {"x": 0.2, "y": -0.15}, {"x": 0.05, "y": -0.227}, {"x": -0.2, "y": 0.0}, {"x": 0.25, "y": 0.0}, {"x": 0.68, "y": 0.132},
            {"x": 0.65, "y": 0.036}, {"x": 0.2, "y": -0.1}, {"x": -0.05, "y": 0.08}, {"x": 0.15, "y": 0.12}, {"x": 0.1, "y": -0.03},
            {"x": 1.94, "y": 0.214}, {"x": 1.76, "y": -0.119}, {"x": 2.1, "y": 0.2}, {"x": 2.2, "y": 0.22}, {"x": 2.3, "y": 0.15},
            {"x": 2.4, "y": 0.2}, {"x": 2.5, "y": 0.22}, {"x": 2.0, "y": -0.05}, {"x": 2.1, "y": -0.1}, {"x": 2.2, "y": -0.15},
            {"x": 2.3, "y": -0.12}, {"x": 2.4, "y": -0.08}, {"x": 2.5, "y": -0.14}, {"x": 2.6, "y": -0.1}, {"x": 2.7, "y": -0.05},
            {"x": 2.15, "y": -0.18}, {"x": 2.35, "y": -0.2}, {"x": 2.55, "y": -0.17}, {"x": 2.25, "y": -0.03}, {"x": 2.45, "y": 0.0},
            {"x": 2.65, "y": -0.15}, {"x": 2.75, "y": -0.1}, {"x": 2.2, "y": 0.05}, {"x": 2.4, "y": -0.16}, {"x": 2.3, "y": -0.1},
            {"x": 2.6, "y": 0.02}, {"x": 2.05, "y": 0.12}, {"x": 3.0, "y": -0.05}, {"x": 3.1, "y": -0.1}, {"x": 3.2, "y": -0.15},
            {"x": 3.3, "y": -0.12}, {"x": 3.4, "y": -0.08}, {"x": 3.5, "y": -0.16}, {"x": 3.6, "y": -0.11}, {"x": 3.7, "y": -0.06},
            {"x": 3.8, "y": -0.13}, {"x": 3.15, "y": 0.0}, {"x": 3.35, "y": 0.05}, {"x": 3.55, "y": -0.02}, {"x": 3.75, "y": 0.1},
            {"x": 3.85, "y": 0.251}, {"x": 3.9, "y": 0.2}, {"x": 3.6, "y": 0.22}, {"x": 3.25, "y": 0.18}, {"x": 3.45, "y": 0.12},
            {"x": 3.65, "y": -0.18}, {"x": 3.05, "y": -0.12}, {"x": 3.95, "y": -0.05}, {"x": 3.5, "y": 0.03}, {"x": 3.7, "y": -0.09},
            {"x": 4.0, "y": -0.14}, {"x": 4.37, "y": 0.017}, {"x": 4.43, "y": -0.03}, {"x": 4.25, "y": -0.06}, {"x": 4.12, "y": -0.115},
            {"x": 5.12, "y": -0.125}, {"x": 5.18, "y": 0.017}, {"x": 5.99, "y": 0.02}, {"x": 6.3, "y": 0.129}, {"x": 6.36, "y": 0.04},
            {"x": 6.7, "y": 0.1}, {"x": 6.8, "y": 0.05}, {"x": 6.9, "y": 0.0}, {"x": 7.0, "y": -0.05}, {"x": 7.1, "y": -0.1},
            {"x": 7.2, "y": -0.05}, {"x": 7.3, "y": 0.0}, {"x": 7.4, "y": 0.05}, {"x": 7.5, "y": -0.03}, {"x": 7.6, "y": 0.02},
            {"x": 7.7, "y": 0.08}, {"x": 6.75, "y": -0.05}, {"x": 6.85, "y": -0.1}, {"x": 6.95, "y": -0.14}, {"x": 7.05, "y": -0.16},
            {"x": 7.15, "y": 0.03}, {"x": 7.25, "y": -0.12}, {"x": 7.35, "y": 0.07}, {"x": 7.45, "y": -0.08}, {"x": 7.55, "y": 0.12},
            {"x": 7.65, "y": -0.02}, {"x": 7.8, "y": 0.13}, {"x": 7.9, "y": 0.1}, {"x": 7.2, "y": 0.11}, {"x": 7.3, "y": -0.16},
            {"x": 7.0, "y": 0.06}, {"x": 9.1, "y": 0.04}, {"x": 9.3, "y": 0.071}, {"x": 9.2, "y": 0.1}, {"x": 9.4, "y": 0.12},
            {"x": 9.25, "y": 0.06}, {"x": 9.5, "y": 0.13}, {"x": 9.71, "y": -0.044}, {"x": 9.35, "y": 0.09}, {"x": 10.7, "y": 0.1},
            {"x": 10.8, "y": 0.05}, {"x": 10.9, "y": 0.0}, {"x": 11.0, "y": 0.06}, {"x": 11.1, "y": 0.02}, {"x": 11.2, "y": 0.08},
            {"x": 11.3, "y": 0.04}, {"x": 10.75, "y": 0.15}, {"x": 10.85, "y": 0.12}, {"x": 10.95, "y": 0.18}, {"x": 11.05, "y": 0.14},
            {"x": 11.15, "y": 0.1}, {"x": 11.25, "y": 0.16}, {"x": 11.35, "y": 0.12}, {"x": 10.8, "y": 0.08}, {"x": 11.0, "y": 0.03},
            {"x": 11.08, "y": -0.034}, {"x": 11.2, "y": 0.2}, {"x": 10.9, "y": 0.1}, {"x": 11.3, "y": 0.06}, {"x": 10.7, "y": 0.02},
            {"x": 11.1, "y": 0.11},
            {"x": 2.2, "y": -0.07}, {"x": 2.4, "y": -0.12}, {"x": 2.6, "y": -0.19}, {"x": 2.3, "y": 0.1}, {"x": 2.5, "y": 0.18},
            {"x": 2.45, "y": -0.05}, {"x": 2.15, "y": 0.15}, {"x": 2.7, "y": 0.0}, {"x": 2.35, "y": -0.14}, {"x": 2.55, "y": 0.05},
            {"x": 3.2, "y": 0.05}, {"x": 3.4, "y": 0.0}, {"x": 3.6, "y": 0.1}, {"x": 3.8, "y": 0.2}, {"x": 3.3, "y": -0.18},
            {"x": 3.5, "y": 0.18}, {"x": 3.7, "y": 0.15}, {"x": 3.9, "y": 0.0}, {"x": 3.15, "y": -0.15}, {"x": 3.45, "y": -0.04},
            {"x": 6.9, "y": 0.08}, {"x": 7.1, "y": 0.0}, {"x": 7.3, "y": 0.1}, {"x": 7.5, "y": 0.06}, {"x": 7.1, "y": -0.13},
            {"x": 7.4, "y": -0.1}, {"x": 7.6, "y": -0.05}, {"x": 6.85, "y": 0.02}, {"x": 7.2, "y": 0.04}, {"x": 7.05, "y": -0.02},
            {"x": 10.8, "y": 0.16}, {"x": 11.0, "y": 0.12}, {"x": 11.2, "y": 0.13}, {"x": 11.3, "y": 0.18}, {"x": 10.9, "y": 0.05},
            {"x": 11.1, "y": 0.07}, {"x": 11.0, "y": 0.2}, {"x": 10.75, "y": 0.08},
            {"x": 0.0, "y": 0.05}, {"x": -0.1, "y": -0.1}, {"x": 0.1, "y": 0.08}, {"x": 0.05, "y": -0.05}
          ]},
          "mark": {"type": "point", "shape": "circle", "filled": true, "fill": "#FFAA00", "stroke": "#000", "strokeWidth": 1, "size": 260, "opacity": 1}
        },
        {
          "data": {"values": [
            {"x": -0.1, "y": 0.14}, {"x": 0.0, "y": 0.12}, {"x": 0.05, "y": 0.08}, {"x": -0.05, "y": 0.05}, {"x": 0.1, "y": 0.1},
            {"x": 0.15, "y": 0.02}, {"x": -0.15, "y": 0.0}, {"x": 0.0, "y": -0.02}, {"x": 0.08, "y": -0.05}, {"x": -0.08, "y": -0.08},
            {"x": 0.12, "y": -0.1}, {"x": 0.02, "y": -0.13}, {"x": -0.12, "y": -0.15}, {"x": 0.05, "y": -0.17}, {"x": 0.2, "y": 0.06},
            {"x": 0.25, "y": -0.03}, {"x": -0.2, "y": 0.09}, {"x": 0.1, "y": 0.15}, {"x": 0.18, "y": -0.12}, {"x": -0.02, "y": 0.03},
            {"x": 0.3, "y": 0.0}, {"x": -0.1, "y": -0.04}, {"x": 0.06, "y": -0.09}, {"x": 0.14, "y": 0.13}, {"x": 1.4, "y": -0.01},
            {"x": 2.0, "y": 0.15}, {"x": 2.1, "y": 0.2}, {"x": 2.2, "y": 0.12}, {"x": 2.3, "y": 0.22}, {"x": 2.4, "y": 0.18},
            {"x": 2.5, "y": 0.1}, {"x": 2.6, "y": 0.2}, {"x": 2.7, "y": 0.15}, {"x": 2.8, "y": 0.08}, {"x": 2.15, "y": 0.05},
            {"x": 2.35, "y": 0.0}, {"x": 2.45, "y": 0.14}, {"x": 2.55, "y": -0.03}, {"x": 2.25, "y": 0.09}, {"x": 2.65, "y": 0.02},
            {"x": 2.75, "y": 0.19}, {"x": 2.05, "y": 0.1}, {"x": 2.4, "y": -0.08}, {"x": 2.5, "y": 0.06}, {"x": 2.3, "y": 0.16},
            {"x": 2.85, "y": 0.13}, {"x": 2.6, "y": -0.1}, {"x": 2.2, "y": 0.21}, {"x": 2.7, "y": 0.04}, {"x": 1.9, "y": 0.07},
            {"x": 2.45, "y": 0.23}, {"x": 3.0, "y": 0.15}, {"x": 3.1, "y": 0.2}, {"x": 3.2, "y": 0.1}, {"x": 3.3, "y": 0.22},
            {"x": 3.4, "y": 0.18}, {"x": 3.5, "y": 0.12}, {"x": 3.6, "y": 0.24}, {"x": 3.7, "y": 0.16}, {"x": 3.8, "y": 0.08},
            {"x": 3.15, "y": 0.03}, {"x": 3.35, "y": -0.02}, {"x": 3.45, "y": 0.06}, {"x": 3.55, "y": -0.06}, {"x": 3.25, "y": 0.13},
            {"x": 3.65, "y": 0.0}, {"x": 3.75, "y": 0.2}, {"x": 3.05, "y": -0.09}, {"x": 3.4, "y": 0.1}, {"x": 3.5, "y": 0.19},
            {"x": 3.85, "y": 0.14}, {"x": 3.9, "y": 0.04}, {"x": 3.3, "y": -0.05}, {"x": 3.6, "y": 0.1}, {"x": 3.2, "y": 0.17},
            {"x": 4.1, "y": 0.21}, {"x": 4.3, "y": 0.2}, {"x": 4.35, "y": 0.16}, {"x": 4.2, "y": 0.12}, {"x": 5.12, "y": 0.176},
            {"x": 5.18, "y": 0.139}, {"x": 5.99, "y": 0.164}, {"x": 6.36, "y": 0.149}, {"x": 6.7, "y": 0.3}, {"x": 6.8, "y": 0.25},
            {"x": 6.9, "y": 0.32}, {"x": 7.0, "y": 0.28}, {"x": 7.1, "y": 0.33}, {"x": 7.2, "y": 0.3}, {"x": 7.3, "y": 0.26},
            {"x": 7.4, "y": 0.32}, {"x": 7.5, "y": 0.29}, {"x": 7.6, "y": 0.25}, {"x": 7.7, "y": 0.2}, {"x": 6.75, "y": 0.2},
            {"x": 6.85, "y": 0.15}, {"x": 6.95, "y": 0.22}, {"x": 7.05, "y": 0.18}, {"x": 7.15, "y": 0.24}, {"x": 7.25, "y": 0.2},
            {"x": 7.35, "y": 0.15}, {"x": 7.45, "y": 0.22}, {"x": 7.55, "y": 0.17}, {"x": 7.65, "y": 0.12}, {"x": 6.9, "y": 0.1},
            {"x": 7.1, "y": 0.12}, {"x": 7.3, "y": 0.08}, {"x": 7.5, "y": 0.1}, {"x": 7.0, "y": 0.05}, {"x": 7.2, "y": 0.17},
            {"x": 7.4, "y": 0.27}, {"x": 7.8, "y": 0.27}, {"x": 7.9, "y": 0.17}, {"x": 7.1, "y": 0.39}, {"x": 7.05, "y": 0.366},
            {"x": 6.6, "y": 0.26}, {"x": 7.25, "y": 0.3}, {"x": 9.1, "y": 0.319}, {"x": 9.34, "y": 0.329}, {"x": 9.2, "y": 0.25},
            {"x": 9.4, "y": 0.22}, {"x": 9.5, "y": 0.26}, {"x": 9.3, "y": 0.18}, {"x": 9.6, "y": 0.26}, {"x": 9.25, "y": 0.15},
            {"x": 9.45, "y": 0.2}, {"x": 10.8, "y": 0.35}, {"x": 10.9, "y": 0.3}, {"x": 11.0, "y": 0.36}, {"x": 11.1, "y": 0.32},
            {"x": 11.2, "y": 0.35}, {"x": 11.3, "y": 0.33}, {"x": 10.75, "y": 0.28}, {"x": 10.85, "y": 0.25}, {"x": 10.95, "y": 0.22},
            {"x": 11.05, "y": 0.27}, {"x": 11.15, "y": 0.24}, {"x": 11.25, "y": 0.28}, {"x": 10.8, "y": 0.2}, {"x": 10.9, "y": 0.17},
            {"x": 11.0, "y": 0.15}, {"x": 11.1, "y": 0.19}, {"x": 11.2, "y": 0.13}, {"x": 11.3, "y": 0.22}, {"x": 10.85, "y": 0.1},
            {"x": 11.05, "y": 0.08}, {"x": 10.96, "y": 0.391}, {"x": 10.9, "y": 0.37}, {"x": 11.35, "y": 0.37}, {"x": 11.1, "y": 0.38},
            {"x": 10.7, "y": 0.24}, {"x": 11.4, "y": 0.26}, {"x": 11.2, "y": 0.3}, {"x": 10.8, "y": 0.31},
            {"x": 2.15, "y": 0.17}, {"x": 2.35, "y": 0.13}, {"x": 2.55, "y": 0.16}, {"x": 2.25, "y": 0.2}, {"x": 2.65, "y": 0.11},
            {"x": 2.4, "y": 0.04}, {"x": 2.3, "y": -0.04}, {"x": 2.5, "y": -0.06}, {"x": 2.6, "y": 0.13}, {"x": 2.7, "y": 0.22},
            {"x": 3.1, "y": 0.08}, {"x": 3.3, "y": 0.15}, {"x": 3.5, "y": 0.05}, {"x": 3.7, "y": 0.09}, {"x": 3.45, "y": 0.21},
            {"x": 3.15, "y": 0.18}, {"x": 3.55, "y": 0.14}, {"x": 3.35, "y": 0.07}, {"x": 3.75, "y": 0.03}, {"x": 3.65, "y": 0.18},
            {"x": 6.8, "y": 0.32}, {"x": 7.0, "y": 0.22}, {"x": 7.2, "y": 0.25}, {"x": 7.4, "y": 0.18}, {"x": 7.6, "y": 0.3},
            {"x": 6.95, "y": 0.3}, {"x": 7.15, "y": 0.14}, {"x": 7.35, "y": 0.28}, {"x": 7.55, "y": 0.21}, {"x": 7.7, "y": 0.27},
            {"x": 10.9, "y": 0.33}, {"x": 11.0, "y": 0.29}, {"x": 11.1, "y": 0.26}, {"x": 11.2, "y": 0.24}, {"x": 11.3, "y": 0.3},
            {"x": 10.8, "y": 0.27}, {"x": 11.25, "y": 0.35}, {"x": 10.95, "y": 0.34}, {"x": 11.15, "y": 0.36}, {"x": 11.05, "y": 0.31},
            {"x": 0.0, "y": 0.08}, {"x": -0.05, "y": -0.12}, {"x": 0.1, "y": -0.15}, {"x": 0.2, "y": -0.07}, {"x": 0.0, "y": 0.02}
          ]},
          "mark": {"type": "point", "shape": "triangle-up", "filled": true, "fill": "#888888", "stroke": "#000", "strokeWidth": 1, "size": 290, "opacity": 1}
        },
        {
          "data": {"values": [{"x": -0.5, "y": -0.003}, {"x": 12.0, "y": 0.162}]},
          "mark": {"type": "line", "color": "#1E9B1E", "strokeWidth": 5}
        },
        {
          "data": {"values": [{"x": -0.5, "y": -0.027}, {"x": 12.0, "y": 0.168}]},
          "mark": {"type": "line", "color": "#FFA500", "strokeWidth": 6}
        },
        {
          "data": {"values": [{"x": -0.3, "y": 0.003}, {"x": 11.4, "y": 0.268}]},
          "mark": {"type": "line", "color": "#000000", "strokeWidth": 6}
        }
      ]
    }
  ],
  "resolve": {"scale": {"x": "independent", "y": "independent"}}
}
